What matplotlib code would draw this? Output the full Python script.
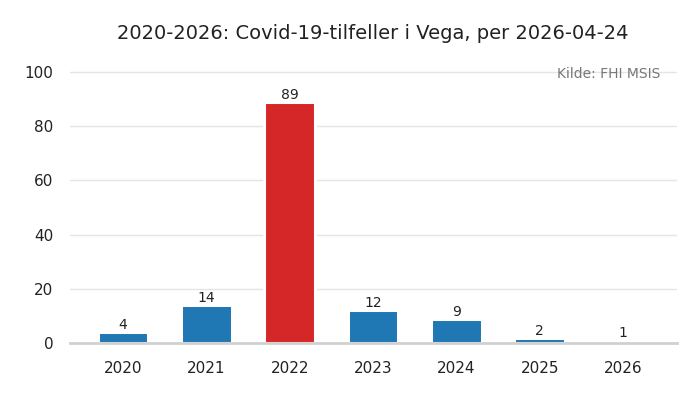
import numpy as np
import matplotlib
matplotlib.use("Agg")
import matplotlib.pyplot as plt

# data
years = ["2020", "2021", "2022", "2023", "2024", "2025", "2026"]
cases = [4, 14, 89, 12, 9, 2, 1]
highlight = "2022"

colors = ["#d62728" if y == highlight else "#1f77b4" for y in years]

fig = plt.figure(figsize=(7, 4), dpi=100)
ax = fig.add_axes([0.1, 0.1425, 0.867, 0.711])

x = np.arange(len(years))
ax.bar(x, cases, width=0.61, color=colors, edgecolor="white", linewidth=2.2, zorder=3)
for xi, v in zip(x, cases):
    ax.text(xi, v, str(v), ha="center", va="bottom", fontsize=10, color="#222222", zorder=4)

ax.set_xlim(-0.635, 6.645)
ax.set_ylim(0, 105)
ax.set_yticks([0, 20, 40, 60, 80, 100])
ax.set_xticks(x)
ax.set_xticklabels(years)
ax.tick_params(length=0, labelsize=11, colors="#222222")
ax.tick_params(axis="x", pad=13)
ax.tick_params(axis="y", pad=12)
ax.grid(axis="y", color="#e5e5e5", linewidth=1, zorder=0)
for s in ["top", "right", "left"]:
    ax.spines[s].set_visible(False)
ax.spines["bottom"].set_color("#d0d0d0")
ax.spines["bottom"].set_linewidth(2)
ax.spines["bottom"].set_zorder(5)

ax.text(0.972, 100, "Kilde: FHI MSIS", transform=ax.get_yaxis_transform(),
        ha="right", va="center_baseline", fontsize=10, color="#777777")

fig.suptitle("2020-2026: Covid-19-tilfeller i Vega, per 2026-04-24", fontsize=14,
             x=0.533, y=0.94, color="#222222")

fig.savefig("out.png", dpi=100)
